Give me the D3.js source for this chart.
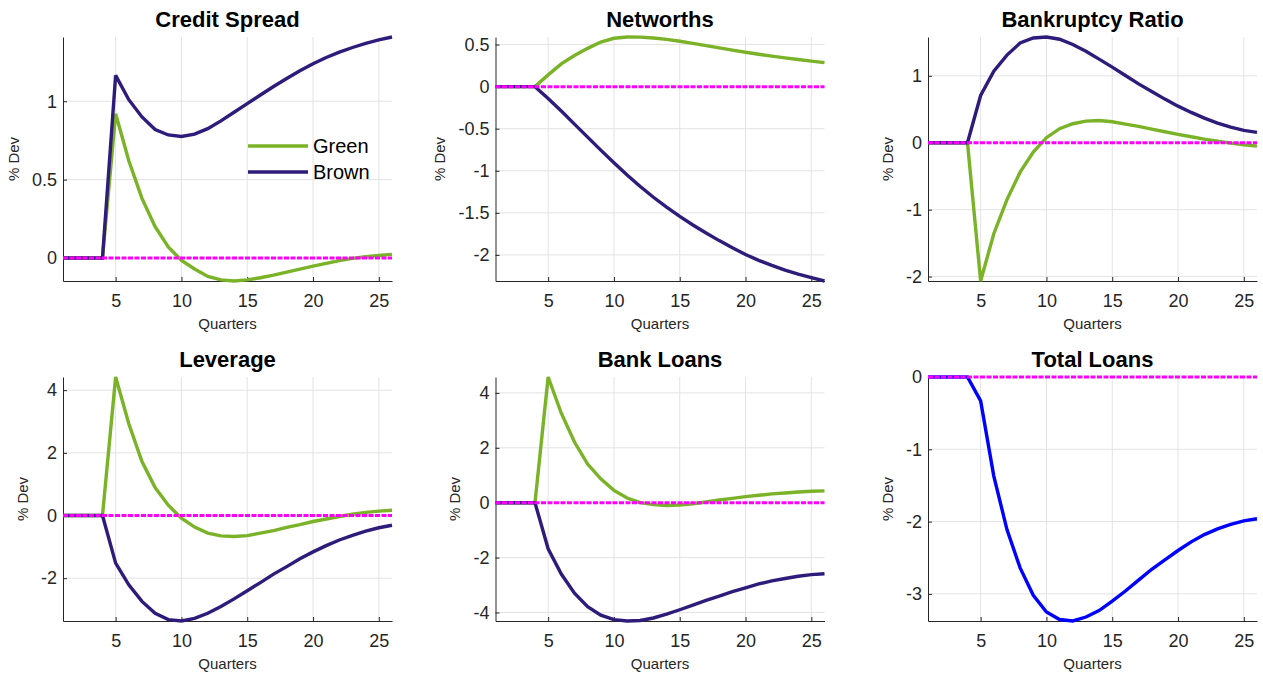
<!DOCTYPE html>
<html>
<head>
<meta charset="utf-8">
<script src="https://cdn.jsdelivr.net/npm/d3@7"></script>
<style>
  body { margin: 0; background: #fff; }
  svg { display: block; font-family: "Liberation Sans", Arial, Helvetica, sans-serif; }
</style>
</head>
<body>
<svg id="chart" width="1263" height="673"></svg>
<script>
// Impulse responses, % deviation from steady state, quarters 1..26
const quarters = [1,2,3,4,5,6,7,8,9,10,11,12,13,14,15,16,17,18,19,20,21,22,23,24,25,26];
const xTicks = [5, 10, 15, 20, 25];

const creditSpreadGreen = [0,0,0,0,0.92,0.62,0.38,0.2,0.07,-0.015,-0.07,-0.118,-0.14,-0.147,-0.14,-0.126,-0.109,-0.09,-0.071,-0.052,-0.034,-0.017,-0.003,0.008,0.016,0.023];
const creditSpreadBrown = [0,0,0,0,1.165,1.01,0.9,0.82,0.785,0.775,0.79,0.825,0.875,0.93,0.985,1.04,1.094,1.145,1.194,1.239,1.279,1.313,1.343,1.369,1.392,1.41];

const networthGreen = [0,0,0,0,0.14,0.27,0.37,0.455,0.53,0.575,0.59,0.588,0.578,0.562,0.54,0.514,0.487,0.46,0.434,0.409,0.385,0.363,0.342,0.322,0.303,0.286];
const networthBrown = [0,0,0,0,-0.14,-0.29,-0.445,-0.6,-0.755,-0.905,-1.05,-1.187,-1.315,-1.433,-1.543,-1.645,-1.74,-1.83,-1.915,-1.995,-2.065,-2.125,-2.18,-2.228,-2.27,-2.31];

const bankruptcyGreen = [0,0,0,0,-2.066,-1.36,-0.85,-0.44,-0.14,0.075,0.21,0.284,0.323,0.333,0.313,0.279,0.244,0.204,0.164,0.124,0.09,0.055,0.025,-0.005,-0.03,-0.05];
const bankruptcyBrown = [0,0,0,0,0.706,1.07,1.31,1.49,1.565,1.58,1.547,1.468,1.368,1.249,1.13,1.005,0.88,0.766,0.652,0.547,0.453,0.368,0.294,0.232,0.185,0.155];

const leverageGreen = [0,0,0,0,4.42,2.93,1.72,0.89,0.33,-0.085,-0.37,-0.56,-0.65,-0.67,-0.64,-0.56,-0.48,-0.38,-0.29,-0.19,-0.11,-0.03,0.04,0.1,0.14,0.17];
const leverageBrown = [0,0,0,0,-1.52,-2.21,-2.74,-3.12,-3.32,-3.365,-3.28,-3.12,-2.9,-2.66,-2.4,-2.14,-1.87,-1.63,-1.38,-1.16,-0.96,-0.78,-0.63,-0.5,-0.39,-0.31];

const bankLoansGreen = [0,0,0,0,4.58,3.26,2.21,1.41,0.87,0.45,0.17,0,-0.07,-0.1,-0.085,-0.04,0.025,0.1,0.16,0.22,0.27,0.32,0.355,0.39,0.415,0.43];
const bankLoansBrown = [0,0,0,0,-1.68,-2.6,-3.3,-3.79,-4.1,-4.26,-4.31,-4.29,-4.2,-4.06,-3.9,-3.73,-3.56,-3.4,-3.24,-3.1,-2.96,-2.85,-2.76,-2.68,-2.62,-2.59];

const totalLoans = [0,0,0,0,-0.33,-1.37,-2.11,-2.64,-3.02,-3.25,-3.355,-3.375,-3.32,-3.23,-3.1,-2.96,-2.81,-2.66,-2.53,-2.4,-2.28,-2.18,-2.1,-2.04,-1.99,-1.96];

const GREEN = "#7ab228";
const BROWN = "#2e1b7a";
const BLUE = "#0000ff";
const ZERO = "#ff00ff";

const panels = [
  { title: "Credit Spread", yTicks: [0, 0.5, 1], legend: true,
    series: [{ name: "Green", values: creditSpreadGreen, color: GREEN },
             { name: "Brown", values: creditSpreadBrown, color: BROWN }] },
  { title: "Networths", yTicks: [-2, -1.5, -1, -0.5, 0, 0.5],
    series: [{ name: "Green", values: networthGreen, color: GREEN },
             { name: "Brown", values: networthBrown, color: BROWN }] },
  { title: "Bankruptcy Ratio", yTicks: [-2, -1, 0, 1],
    series: [{ name: "Green", values: bankruptcyGreen, color: GREEN },
             { name: "Brown", values: bankruptcyBrown, color: BROWN }] },
  { title: "Leverage", yTicks: [-2, 0, 2, 4],
    series: [{ name: "Green", values: leverageGreen, color: GREEN },
             { name: "Brown", values: leverageBrown, color: BROWN }] },
  { title: "Bank Loans", yTicks: [-4, -2, 0, 2, 4],
    series: [{ name: "Green", values: bankLoansGreen, color: GREEN },
             { name: "Brown", values: bankLoansBrown, color: BROWN }] },
  { title: "Total Loans", yTicks: [-3, -2, -1, 0],
    series: [{ name: "Total", values: totalLoans, color: BLUE }] }
];

// 2 x 3 grid of axes
const grid = { left: 63, top: 37, colStep: 432.5, rowStep: 340, w: 329, h: 244 };
const AXIS_COLOR = "#262626";
const GRID_COLOR = "#e3e3e3";
const TICK_FONT = 18;

const svg = d3.select("#chart");
const fmt = v => String(v);

panels.forEach((p, i) => {
  const col = i % 3, row = Math.floor(i / 3);
  const left = grid.left + col * grid.colStep;
  const top = grid.top + row * grid.rowStep;
  const w = grid.w, h = grid.h;

  const x = d3.scaleLinear().domain(d3.extent(quarters)).range([0, w]);
  const allVals = p.series.flatMap(s => s.values).concat([0]);
  const y = d3.scaleLinear().domain(d3.extent(allVals)).range([h, 0]);

  const g = svg.append("g").attr("transform", `translate(${left},${top})`);

  // grid lines
  g.append("g").selectAll("line").data(xTicks).join("line")
    .attr("x1", d => x(d)).attr("x2", d => x(d))
    .attr("y1", 0).attr("y2", h)
    .attr("stroke", GRID_COLOR).attr("stroke-width", 1);
  g.append("g").selectAll("line").data(p.yTicks).join("line")
    .attr("x1", 0).attr("x2", w)
    .attr("y1", d => y(d)).attr("y2", d => y(d))
    .attr("stroke", GRID_COLOR).attr("stroke-width", 1);

  // axes
  const xAxis = g.append("g").attr("transform", `translate(0,${h})`)
    .call(d3.axisBottom(x).tickValues(xTicks).tickFormat(fmt)
      .tickSizeInner(-4).tickSizeOuter(0).tickPadding(13));
  const yAxis = g.append("g")
    .call(d3.axisLeft(y).tickValues(p.yTicks).tickFormat(fmt)
      .tickSizeInner(-4).tickSizeOuter(0).tickPadding(6));
  [xAxis, yAxis].forEach(a => {
    a.attr("font-family", null).attr("font-size", null);
    a.select(".domain").attr("stroke", AXIS_COLOR).attr("stroke-width", 1);
    a.selectAll(".tick line").attr("stroke", AXIS_COLOR);
    a.selectAll(".tick text").attr("fill", AXIS_COLOR).style("font-size", TICK_FONT + "px");
  });

  // series
  const line = d3.line().x((d, k) => x(quarters[k])).y(d => y(d));
  p.series.forEach(s => {
    g.append("path").datum(s.values)
      .attr("fill", "none").attr("stroke", s.color)
      .attr("stroke-width", 3.4).attr("stroke-miterlimit", 2)
      .attr("d", line);
  });

  // zero reference line
  g.append("path").datum(quarters.map(() => 0))
    .attr("fill", "none").attr("stroke", ZERO)
    .attr("stroke-width", 3).attr("stroke-dasharray", "5 1.5")
    .attr("d", line);

  // title and axis labels
  g.append("text").attr("x", w / 2).attr("y", -10)
    .attr("text-anchor", "middle").attr("font-weight", "bold")
    .style("font-size", "22px").attr("fill", "#000").text(p.title);

  g.append("text").attr("x", w / 2).attr("y", h + 48)
    .attr("text-anchor", "middle").style("font-size", "15px")
    .attr("fill", AXIS_COLOR).text("Quarters");

  let maxW = 0;
  yAxis.selectAll(".tick text").each(function () {
    maxW = Math.max(maxW, this.getComputedTextLength());
  });
  const lx = -6 - maxW - 13;
  g.append("text")
    .attr("transform", `translate(${lx},${h / 2}) rotate(-90)`)
    .attr("text-anchor", "middle").style("font-size", "15px")
    .attr("fill", AXIS_COLOR).text("% Dev");

  // legend
  if (p.legend) {
    const lg = g.append("g").attr("transform", "translate(185,109)");
    p.series.forEach((s, k) => {
      const ly = k * 26;
      lg.append("line").attr("x1", 0).attr("x2", 60).attr("y1", ly).attr("y2", ly)
        .attr("stroke", s.color).attr("stroke-width", 3.4);
      lg.append("text").attr("x", 65).attr("y", ly + 7)
        .style("font-size", "20px").attr("fill", "#000").text(s.name);
    });
  }
});
</script>
</body>
</html>
